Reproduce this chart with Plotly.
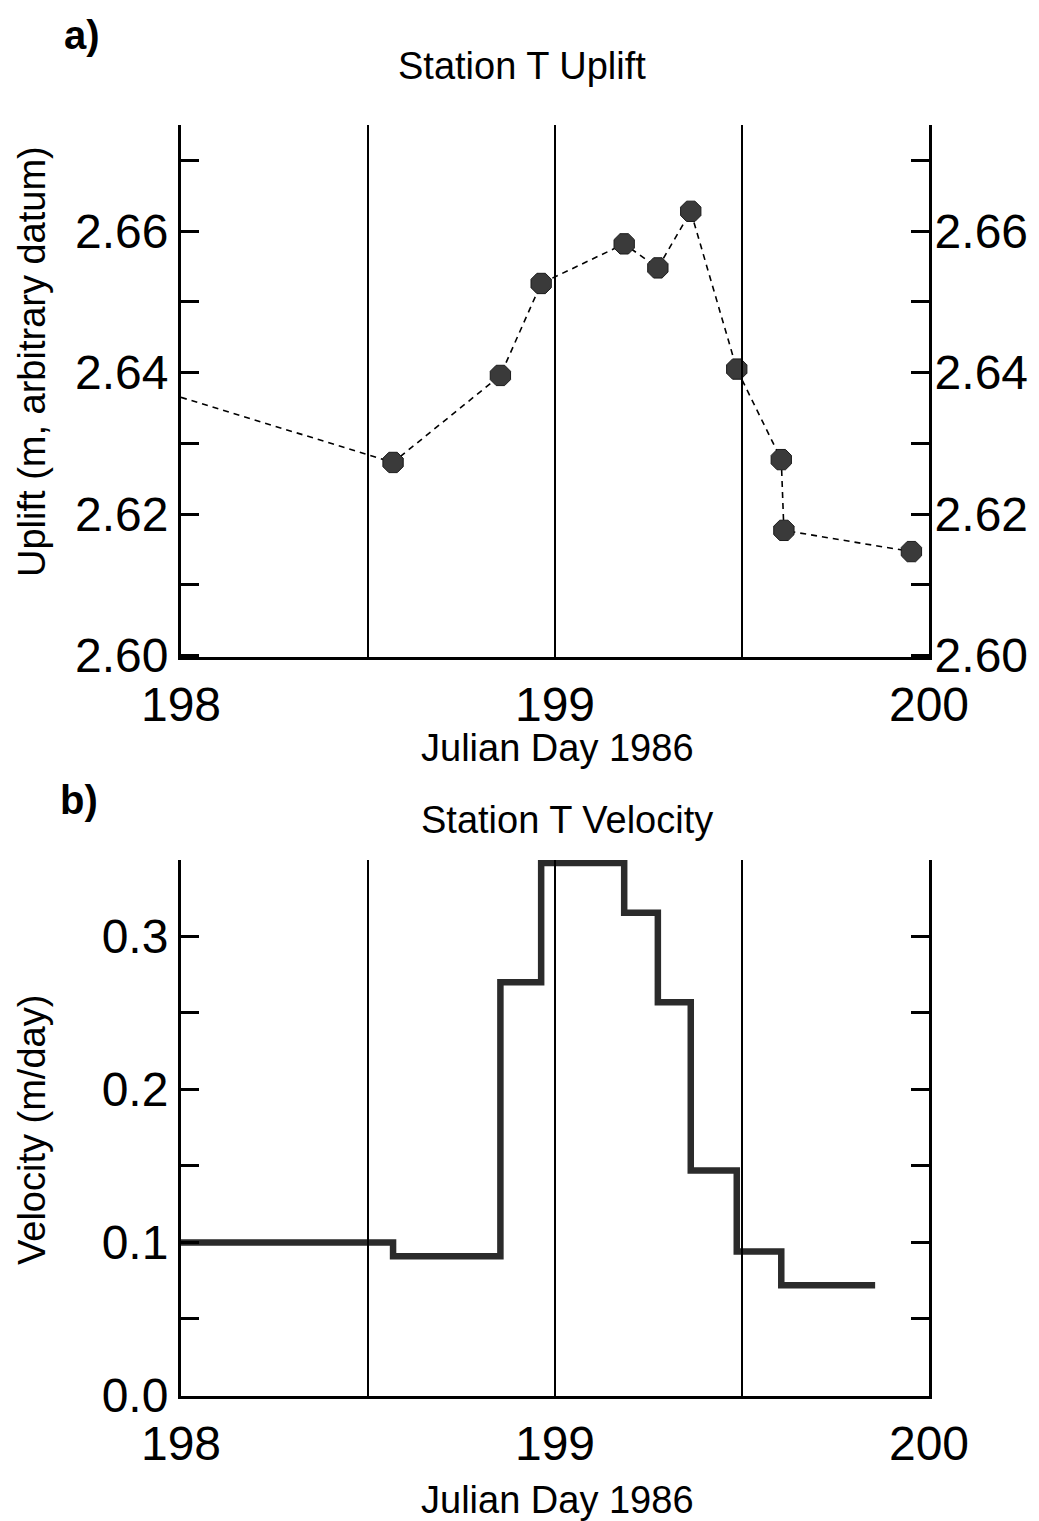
import plotly.graph_objects as go

# ---- data ----
uplift_day = [198.0, 198.567, 198.854, 198.963, 199.185, 199.275, 199.363, 199.486, 199.605, 199.612, 199.953]
uplift_m = [2.6365, 2.6273, 2.6396, 2.6526, 2.6582, 2.6548, 2.6628, 2.6405, 2.6277, 2.6177, 2.6147]

velocity_edges = [198.0, 198.567, 198.854, 198.963, 199.185, 199.275, 199.363, 199.486, 199.605, 199.856]
velocity = [0.100, 0.091, 0.270, 0.348, 0.3155, 0.257, 0.147, 0.094, 0.072]

day_ticks = [198, 199, 200]
day_lines = [198.5, 199.0, 199.5]
uplift_tickvals = [2.60, 2.61, 2.62, 2.63, 2.64, 2.65, 2.66, 2.67]
uplift_ticktext = ["2.60", "", "2.62", "", "2.64", "", "2.66", ""]
vel_tickvals = [0.0, 0.05, 0.1, 0.15, 0.2, 0.25, 0.3, 0.35]
vel_ticktext = ["0.0", "", "0.1", "", "0.2", "", "0.3", ""]

# page has an 8px body margin; figure coordinates are page coordinates minus 8
OFF = 8
W, H = 1039 - OFF, 1521 - OFF
FONT = "Liberation Sans, Arial, Helvetica, sans-serif"
TICKFONT = dict(family=FONT, size=48, color="black")
TITLEFONT = dict(family=FONT, size=38, color="black")
BOLDFONT = dict(family=FONT, size=40, color="black")

def px(x):
    return (x - OFF) / W

def py(y):
    return 1 - (y - OFF) / H

xdom = [px(181), px(929)]
ydom_a = [py(657), py(125)]
ydom_b = [py(1396), py(860)]

fig = go.Figure()

# Panel a: dashed line + octagon markers
fig.add_trace(go.Scatter(
    x=uplift_day, y=uplift_m, mode="lines",
    line=dict(color="black", width=1.6, dash="6px,5px"),
    xaxis="x", yaxis="y", showlegend=False, hoverinfo="skip"))
fig.add_trace(go.Scatter(
    x=uplift_day[1:], y=uplift_m[1:], mode="markers",
    marker=dict(symbol="octagon", size=22, color="#3a3a3a",
                line=dict(color="#1a1a1a", width=1)),
    xaxis="x", yaxis="y", showlegend=False))

# Panel b: step line
fig.add_trace(go.Scatter(
    x=velocity_edges, y=velocity + [velocity[-1]], mode="lines",
    line=dict(color="#2b2b2b", width=6.5, shape="hv"),
    xaxis="x2", yaxis="y2", showlegend=False))

# right-hand axis of panel a
fig.add_trace(go.Scatter(x=[None], y=[None], xaxis="x", yaxis="y3", showlegend=False))

shapes = []
for d in day_lines:
    shapes.append(dict(type="line", xref="x", yref="y domain", x0=d, x1=d, y0=0, y1=1,
                       line=dict(color="black", width=2)))
    shapes.append(dict(type="line", xref="x2", yref="y2 domain", x0=d, x1=d, y0=0, y1=1,
                       line=dict(color="black", width=2)))

common_x = dict(domain=xdom, range=[198, 200], tickvals=day_ticks,
                ticktext=[str(t) for t in day_ticks], ticks="", showline=True,
                linewidth=3, linecolor="black", showgrid=False, zeroline=False,
                tickfont=TICKFONT, ticklabelstandoff=3, automargin=False)

common_y = dict(ticks="inside", ticklen=18, tickwidth=2.5, tickcolor="black",
                showline=True, linewidth=3, linecolor="black", showgrid=False,
                zeroline=False, tickfont=TICKFONT, automargin=False)

def ann(text, x, y, font, angle=0):
    return dict(text=text, x=px(x), y=py(y), xref="paper", yref="paper",
                showarrow=False, textangle=angle, font=font,
                xanchor="center", yanchor="middle")

annotations = [
    ann("<b>a)</b>", 82, 35, BOLDFONT),
    ann("Station T Uplift", 522, 66, TITLEFONT),
    ann("Julian Day 1986", 557, 748, TITLEFONT),
    ann("Uplift (m, arbitrary datum)", 32, 362, TITLEFONT, -90),
    ann("<b>b)</b>", 79, 800, BOLDFONT),
    ann("Station T Velocity", 567, 820, TITLEFONT),
    ann("Julian Day 1986", 557, 1500, TITLEFONT),
    ann("Velocity (m/day)", 32, 1130, TITLEFONT, -90),
]

fig.update_layout(
    width=W, height=H,
    margin=dict(l=0, r=0, t=0, b=0, autoexpand=False),
    paper_bgcolor="white", plot_bgcolor="white",
    font=dict(family=FONT, color="black"),
    xaxis=dict(anchor="y", **common_x),
    yaxis=dict(domain=ydom_a, anchor="x", range=[2.5998, 2.675],
               tickvals=uplift_tickvals, ticktext=uplift_ticktext,
               ticklabelstandoff=0, **common_y),
    yaxis3=dict(overlaying="y", side="right", anchor="x", range=[2.5998, 2.675],
                tickvals=uplift_tickvals, ticktext=uplift_ticktext,
                ticklabelstandoff=-7, **common_y),
    xaxis2=dict(anchor="y2", **common_x),
    yaxis2=dict(domain=ydom_b, anchor="x2", range=[-0.0004, 0.35],
                tickvals=vel_tickvals, ticktext=vel_ticktext, mirror="ticks",
                ticklabelstandoff=0, **common_y),
    shapes=shapes,
    annotations=annotations,
)

fig.write_html("out.html")
